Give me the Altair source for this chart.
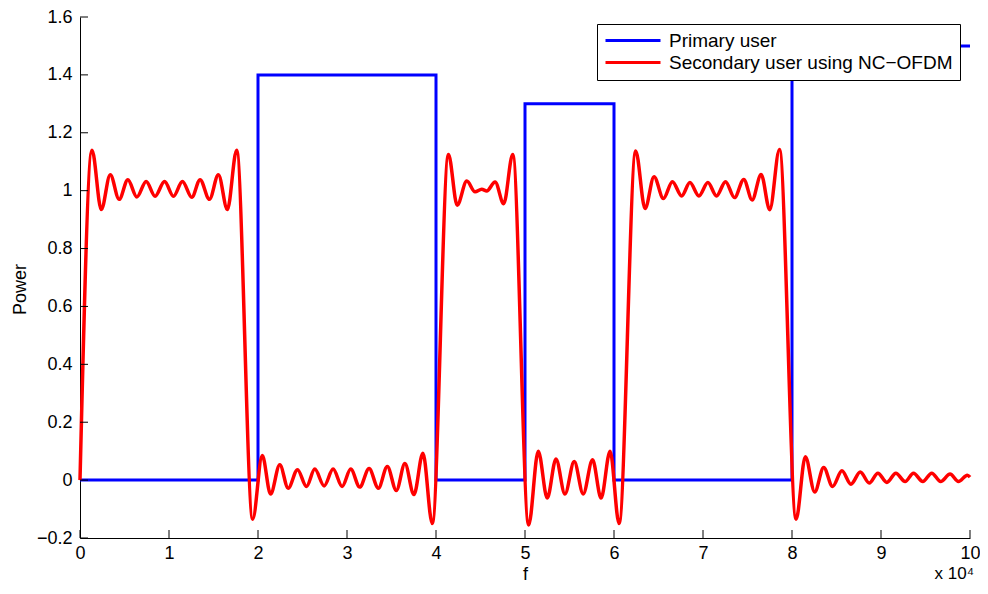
import altair as alt
import pandas as pd

# ---- data (f in units of 10^4) ----
series_names = ["Primary user", "Secondary user using NC\u2212OFDM"]

blue_f = [0, 2, 2, 4, 4, 5, 5, 6, 6, 8, 8, 10]
blue_p = [0, 0, 1.4, 1.4, 0, 0, 1.3, 1.3, 0, 0, 1.5, 1.5]

red_f = [0, 0.135, 0.239, 0.34, 0.44, 0.538, 0.639, 0.743, 0.844, 0.95, 1.05, 1.151,
         1.256, 1.349, 1.454, 1.555, 1.656, 1.76,
         1.94, 2.048, 2.141, 2.245, 2.339, 2.444, 2.545, 2.638, 2.743, 2.844, 2.945,
         3.042, 3.143, 3.248, 3.352, 3.453, 3.554, 3.651, 3.752, 3.853, 3.958,
         4.14, 4.238, 4.346, 4.439, 4.514, 4.57, 4.664, 4.761, 4.862,
         5.041, 5.149, 5.25, 5.348, 5.449, 5.553, 5.654, 5.759, 5.855, 5.956, 6.057,
         6.244, 6.349, 6.45, 6.555, 6.656, 6.76, 6.853, 6.954, 7.055, 7.152, 7.253,
         7.354, 7.458, 7.552, 7.653, 7.75, 7.859,
         8.046, 8.15, 8.255, 8.356, 8.456, 8.561, 8.662, 8.767, 8.868, 8.965, 9.066,
         9.167, 9.271, 9.365, 9.47, 9.57, 9.67, 9.776, 9.87, 9.97, 10.0]
red_p = [0, 1.14, 0.935, 1.055, 0.97, 1.038, 0.978, 1.032, 0.981, 1.032, 0.981, 1.032,
         0.977, 1.038, 0.97, 1.055, 0.935, 1.14,
         -0.135, 0.085, -0.048, 0.053, -0.028, 0.036, -0.022, 0.038, -0.02, 0.038, -0.022,
         0.038, -0.024, 0.04, -0.028, 0.047, -0.036, 0.057, -0.05, 0.093, -0.15,
         1.125, 0.95, 1.033, 0.996, 1.005, 0.999, 1.03, 0.955, 1.125,
         -0.155, 0.1, -0.062, 0.073, -0.048, 0.064, -0.048, 0.07, -0.062, 0.1, -0.15,
         1.137, 0.938, 1.048, 0.973, 1.031, 0.982, 1.028, 0.982, 1.028, 0.982, 1.031,
         0.976, 1.039, 0.968, 1.056, 0.934, 1.142,
         -0.135, 0.081, -0.041, 0.044, -0.022, 0.032, -0.014, 0.028, -0.01, 0.024, -0.008,
         0.024, -0.005, 0.024, -0.005, 0.024, -0.005, 0.021, -0.005, 0.017, 0.01]

x_ticks = [0, 1, 2, 3, 4, 5, 6, 7, 8, 9, 10]
y_ticks = [-0.2, 0, 0.2, 0.4, 0.6, 0.8, 1.0, 1.2, 1.4, 1.6]
exponent_label = ["x 10\u2074"]

# ---- layout ----
W, H = 890, 521
FONT = "Liberation Sans"
TICK_FS = 18

blue_df = pd.DataFrame({"f": blue_f, "p": blue_p, "i": list(range(len(blue_f))),
                        "s": series_names[0]})
red_df = pd.DataFrame({"f": red_f, "p": red_p, "i": list(range(len(red_f))),
                       "s": series_names[1]})

xs = alt.Scale(domain=[0, 10], nice=False, zero=False)
ys = alt.Scale(domain=[-0.2, 1.6], nice=False, zero=False)

color = alt.Color(
    "s:N",
    scale=alt.Scale(domain=series_names, range=["#0000FF", "#FF0000"]),
    legend=alt.Legend(
        title=None, orient="none", legendX=517, legendY=7,
        symbolType="M-2,0H11.75", symbolSize=64, symbolStrokeWidth=3,
        labelFont=FONT, labelFontSize=19, labelColor="#000000", labelLimit=400,
        rowPadding=2, padding=7, labelOffset=46,
        strokeColor="#000000", fillColor="#FFFFFF", cornerRadius=0,
    ),
)

x_enc = alt.X("f:Q", scale=xs, axis=alt.Axis(
    values=x_ticks, format="d", title="f", ticks=False, tickSize=0, grid=False,
    labelFlush=False, labelOverlap=False,
    labelFont=FONT, labelFontSize=TICK_FS, labelColor="#000000", labelPadding=6,
    titleFont=FONT, titleFontSize=TICK_FS, titleFontWeight="normal", titleColor="#000000",
    titlePadding=3, domainColor="#000000", domainWidth=1))
y_enc = alt.Y("p:Q", scale=ys, axis=alt.Axis(
    values=y_ticks, format="~g", title="Power", ticks=False, tickSize=0, grid=False,
    labelFlush=False, labelOverlap=False,
    labelFont=FONT, labelFontSize=TICK_FS, labelColor="#000000", labelPadding=8,
    titleFont=FONT, titleFontSize=TICK_FS, titleFontWeight="normal", titleColor="#000000",
    titleX=-60, titleY=272, titleAngle=270, titleBaseline="middle",
    domainColor="#000000", domainWidth=1))

blue = alt.Chart(blue_df).mark_line(strokeWidth=3, interpolate="linear").encode(
    x=x_enc, y=y_enc, color=color, order="i:Q")
red = alt.Chart(red_df).mark_line(strokeWidth=3.5, interpolate="monotone").encode(
    x=alt.X("f:Q", scale=xs), y=alt.Y("p:Q", scale=ys), color=color, order="i:Q")

xt = alt.Chart(pd.DataFrame({"f": x_ticks})).mark_rule(color="#000000", strokeWidth=1).encode(
    x=alt.X("f:Q", scale=xs), y=alt.value(H), y2=alt.value(H - 8))
yt = alt.Chart(pd.DataFrame({"p": y_ticks})).mark_rule(color="#000000", strokeWidth=1).encode(
    y=alt.Y("p:Q", scale=ys), x=alt.value(0), x2=alt.value(8))

expo = alt.Chart(pd.DataFrame({"t": exponent_label})).mark_text(
    font=FONT, fontSize=17, color="#000000", align="right", baseline="alphabetic").encode(
    text="t:N", x=alt.value(W + 4), y=alt.value(H + 41))

chart = alt.layer(blue, red, xt, yt, expo).properties(
    width=W, height=H,
    autosize=alt.AutoSizeParams(type="none"),
    padding={"left": 72, "top": 9, "right": 10, "bottom": 47},
).configure_view(stroke=None)

chart.save("out.html", embed_options={"renderer": "svg", "actions": False})
